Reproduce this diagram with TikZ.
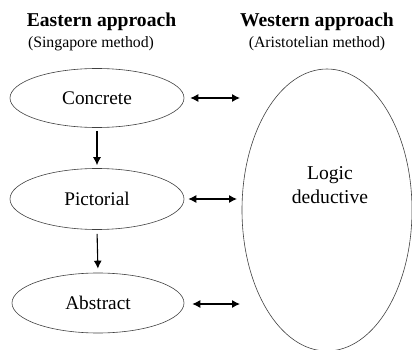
\documentclass[tikz,border=0pt]{standalone}
\usepackage{fontspec}
\setmainfont{Liberation Serif}
\usetikzlibrary{arrows.meta,shapes.geometric}
\begin{document}
\begin{tikzpicture}[x=1pt,y=-1pt,
  stage/.style={draw=black!75,line width=0.6pt,ellipse,minimum width=174pt,minimum height=59pt,inner sep=0pt,font=\fontsize{19.3}{22}\selectfont},
  head/.style={font=\bfseries\fontsize{19.6}{22}\selectfont,inner sep=0pt},
  sub/.style={font=\fontsize{15.8}{18}\selectfont,inner sep=0pt},
  flow/.style={line width=1.1pt,-{Latex[length=8pt,width=8pt]}},
  link/.style={line width=1.1pt,{Latex[length=8pt,width=8pt]}-{Latex[length=8pt,width=8pt]}}]
\useasboundingbox (0,0) rectangle (412,350);
\node[head] (eh) at (101.5,22) {Eastern approach};
\node[sub] (es) at (91,44) {(Singapore method)};
\node[head] (wh) at (317,22) {Western approach};
\node[sub] (ws) at (317,44) {(Aristotelian method)};
\node[stage] (con) at (97,98) {Concrete};
\node[stage,minimum height=61pt] (pic) at (97,199) {Pictorial};
\node[stage,minimum width=172pt,minimum height=60pt] (abs) at (98,303) {Abstract};
\node[draw=black!75,line width=0.6pt,ellipse,minimum width=170pt,minimum height=282pt,inner sep=0pt] (log) at (327,210) {};
\node[align=center,font=\fontsize{19.6}{24}\selectfont,inner sep=0pt] (logt) at (330,185) {Logic\\deductive};
\coordinate (r1) at (240,98);
\coordinate (r2) at (237,199);
\coordinate (r3) at (240,304);
\draw[flow,shorten <=3pt,shorten >=3pt] (con.south) -- (pic.north);
\draw[flow,shorten <=4pt,shorten >=4pt] (pic.south) -- (abs.north);
\draw[link,shorten <=6pt] (con.east) -- (r1);
\draw[link,shorten <=4pt] (pic.east) -- (r2);
\draw[link,shorten <=8pt] (abs.east |- r3) -- (r3);
\end{tikzpicture}
\end{document}
